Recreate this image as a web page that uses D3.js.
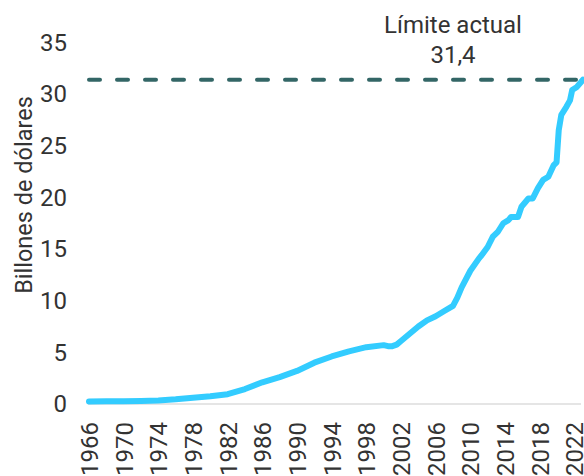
<!DOCTYPE html>
<html>
<head>
<meta charset="utf-8">
<script src="https://cdn.jsdelivr.net/npm/d3@7"></script>
<style>
body { margin: 0; background: #fff; }
text { font-family: Roboto, sans-serif; fill: #333; }
</style>
</head>
<body>
<svg width="584" height="476"></svg>
<script>
// deuda (billones de dolares)
var years = [1966, 1968, 1970, 1972, 1974, 1976, 1978, 1980, 1982, 1984, 1986, 1988, 1990, 1992, 1994, 1996, 1998,
    2000, 2000.5, 2001, 2001.5, 2002, 2003, 2004, 2005, 2006, 2007, 2008, 2008.5, 2009, 2010, 2011, 2011.3,
    2012, 2012.6, 2013.2, 2013.8, 2014.4, 2014.7, 2015.5, 2015.9, 2016.7, 2017.2, 2017.8, 2018.4, 2019.0,
    2019.6, 2019.95, 2020.2, 2020.5, 2021.1, 2021.5, 2021.75, 2022.3, 2023.0];
var debt = [0.25, 0.26, 0.27, 0.3, 0.34, 0.45, 0.6, 0.75, 0.95, 1.45, 2.1, 2.6, 3.2, 4.0, 4.6, 5.1, 5.5,
    5.7, 5.6, 5.6, 5.75, 6.1, 6.8, 7.5, 8.1, 8.5, 9.0, 9.5, 10.3, 11.3, 12.9, 14.1, 14.4,
    15.2, 16.2, 16.7, 17.5, 17.8, 18.1, 18.1, 19.1, 19.9, 19.9, 20.9, 21.7, 22.0,
    23.1, 23.4, 26.5, 28.0, 28.8, 29.4, 30.4, 30.7, 31.4];
var limit = 31.4;
var yTicks = [0, 5, 10, 15, 20, 25, 30, 35];
var xTicks = d3.range(1966, 2023, 4);

var svg = d3.select("svg");
var margin = {left: 89, right: 1, top: 42.5, bottom: 72};
var width = +svg.attr("width");
var height = +svg.attr("height");

var x = d3.scaleLinear().domain([1966, 2023]).range([margin.left, width - margin.right]);
var y = d3.scaleLinear().domain([0, 35]).range([height - margin.bottom, margin.top]);

// eje y
var yAxis = svg.append("g")
    .attr("transform", "translate(67,0)")
    .call(d3.axisLeft(y).tickValues(yTicks).tickSize(0).tickPadding(0));
yAxis.select(".domain").remove();
yAxis.selectAll("text").style("font-size", "24px").attr("fill", "#333");

// linea base
svg.append("line")
    .attr("x1", margin.left - 1).attr("x2", width - 3)
    .attr("y1", y(0)).attr("y2", y(0))
    .attr("stroke", "#ddd").attr("stroke-width", 1.5);

// eje x, etiquetas verticales
var xAxis = svg.append("g")
    .attr("transform", "translate(0," + (y(0) + 18) + ")")
    .call(d3.axisBottom(x).tickValues(xTicks).tickFormat(d3.format("d")).tickSize(0).tickPadding(0));
xAxis.select(".domain").remove();
xAxis.selectAll("text")
    .style("font-size", "24px")
    .attr("fill", "#333")
    .attr("text-anchor", "end")
    .attr("transform", "rotate(-90)")
    .attr("x", 0)
    .attr("y", 0)
    .attr("dy", "0.35em");

svg.append("text")
    .attr("transform", "translate(32,195) rotate(-90)")
    .attr("text-anchor", "middle")
    .style("font-size", "23.5px")
    .text("Billones de dólares");

// limite actual
svg.append("line")
    .attr("x1", x(1966)).attr("x2", x(2023))
    .attr("y1", y(limit)).attr("y2", y(limit))
    .attr("stroke", "#336666")
    .attr("stroke-width", 4)
    .attr("stroke-linecap", "round")
    .attr("stroke-dasharray", "11,17");

svg.append("text")
    .attr("x", 453).attr("y", 33)
    .attr("text-anchor", "middle")
    .style("font-size", "24px")
    .text("Límite actual");
svg.append("text")
    .attr("x", 453).attr("y", 63)
    .attr("text-anchor", "middle")
    .style("font-size", "24px")
    .text(d3.format(".1f")(limit).replace(".", ","));

var line = d3.line()
    .x(function(d, i) { return x(years[i]); })
    .y(function(d) { return y(d); });

svg.append("path")
    .attr("d", line(debt))
    .attr("fill", "none")
    .attr("stroke", "#33ccff")
    .attr("stroke-width", 6)
    .attr("stroke-linejoin", "round")
    .attr("stroke-linecap", "round");
</script>
</body>
</html>
